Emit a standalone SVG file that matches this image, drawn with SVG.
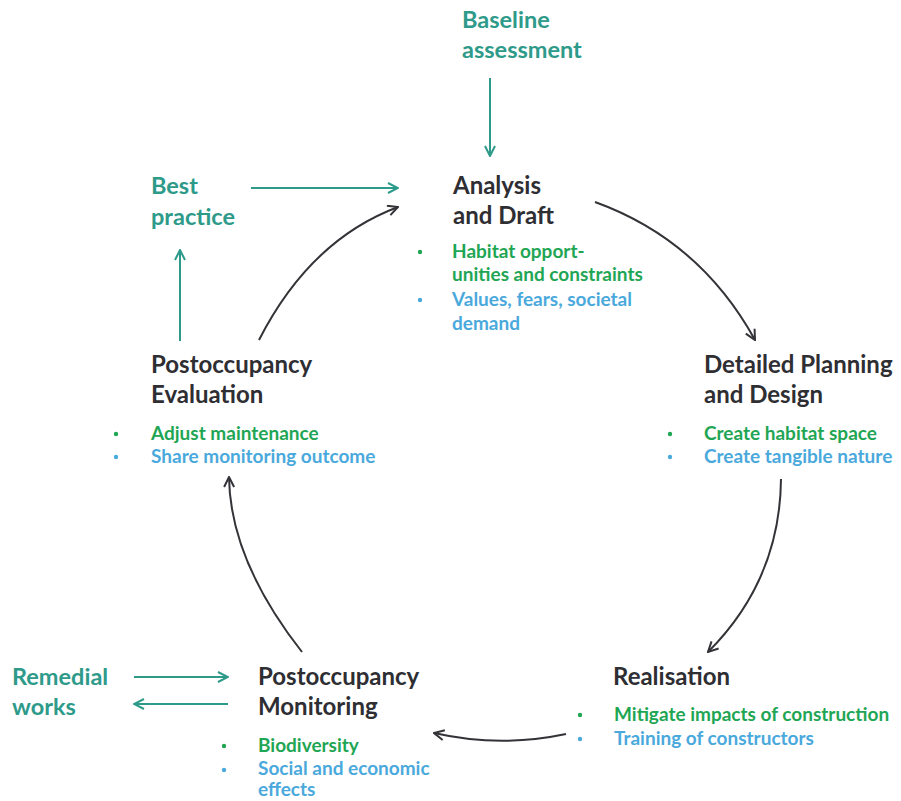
<svg xmlns="http://www.w3.org/2000/svg" width="901" height="801" viewBox="0 0 901 801">
<defs>
<style>
.t{font-family:Lato,"Open Sans","Liberation Sans",sans-serif;font-weight:700;font-size:24px;fill:#2e2e33}
.x{font-family:Lato,"Open Sans","Liberation Sans",sans-serif;font-weight:700;font-size:23.5px;fill:#2e9a8a}
.g{font-family:Lato,"Open Sans","Liberation Sans",sans-serif;font-weight:700;font-size:19px;fill:#1fa654}
.b{font-family:Lato,"Open Sans","Liberation Sans",sans-serif;font-weight:700;font-size:19px;fill:#4aa9dc}
.dk{fill:none;stroke:#333338;stroke-width:2}
.tl{fill:none;stroke:#2e9a8a;stroke-width:2}
.dg{fill:#1fa654}
.db{fill:#4aa9dc}
</style>
<marker id="ak" viewBox="0 0 12 12" refX="11" refY="6" markerWidth="12" markerHeight="12" markerUnits="userSpaceOnUse" orient="auto">
<path d="M1,1 L11,6 L1,11" fill="none" stroke="#333338" stroke-width="2"/>
</marker>
<marker id="at" viewBox="0 0 12 12" refX="11" refY="6" markerWidth="12" markerHeight="12" markerUnits="userSpaceOnUse" orient="auto">
<path d="M1,1 L11,6 L1,11" fill="none" stroke="#2e9a8a" stroke-width="2"/>
</marker>
</defs>
<rect width="901" height="801" fill="#ffffff"/>
<g id="connectors">
<path class="dk" d="M595,202 Q700,240 755,340" marker-end="url(#ak)"/>
<path class="dk" d="M781,479 Q780,580 708,652" marker-end="url(#ak)"/>
<path class="dk" d="M566,734 Q500,748 434,733" marker-end="url(#ak)"/>
<path class="dk" d="M302,652 Q230,560 229,477" marker-end="url(#ak)"/>
<path class="dk" d="M259,340 Q310,240 398,207" marker-end="url(#ak)"/>
<path class="tl" d="M490,78 L490,156" marker-end="url(#at)"/>
<path class="tl" d="M251,188 L398,188" marker-end="url(#at)"/>
<path class="tl" d="M180,341 L180,250" marker-end="url(#at)"/>
<path class="tl" d="M134,677 L228,677" marker-end="url(#at)"/>
<path class="tl" d="M228,704 L134,704" marker-end="url(#at)"/>
</g>
<g id="baseline">
<text class="x" x="462" y="28">Baseline</text>
<text class="x" x="462" y="58">assessment</text>
</g>
<g id="analysis">
<text class="t" x="453" y="194">Analysis</text>
<text class="t" x="453" y="224">and Draft</text>
<circle class="dg" cx="420" cy="252" r="2.2"/>
<text class="g" x="452" y="258">Habitat opport-</text>
<text class="g" x="452" y="281">unities and constraints</text>
<circle class="db" cx="420" cy="300" r="2.2"/>
<text class="b" x="452" y="306">Values, fears, societal</text>
<text class="b" x="452" y="330">demand</text>
</g>
<g id="bestpractice">
<text class="x" x="151" y="194">Best</text>
<text class="x" x="151" y="225">practice</text>
</g>
<g id="evaluation">
<text class="t" x="151" y="373">Postoccupancy</text>
<text class="t" x="151" y="403">Evaluation</text>
<circle class="dg" cx="116" cy="434" r="2.2"/>
<text class="g" x="151" y="440">Adjust maintenance</text>
<circle class="db" cx="116" cy="457" r="2.2"/>
<text class="b" x="151" y="463">Share monitoring outcome</text>
</g>
<g id="detailed">
<text class="t" x="704" y="373">Detailed Planning</text>
<text class="t" x="704" y="403">and Design</text>
<circle class="dg" cx="670" cy="434" r="2.2"/>
<text class="g" x="704" y="440">Create habitat space</text>
<circle class="db" cx="670" cy="457" r="2.2"/>
<text class="b" x="704" y="463">Create tangible nature</text>
</g>
<g id="realisation">
<text class="t" x="613" y="685">Realisation</text>
<circle class="dg" cx="580" cy="715" r="2.2"/>
<text class="g" x="614" y="721">Mitigate impacts of construction</text>
<circle class="db" cx="580" cy="739" r="2.2"/>
<text class="b" x="614" y="745">Training of constructors</text>
</g>
<g id="remedial">
<text class="x" x="12" y="685">Remedial</text>
<text class="x" x="12" y="715">works</text>
</g>
<g id="monitoring">
<text class="t" x="258" y="685">Postoccupancy</text>
<text class="t" x="258" y="715">Monitoring</text>
<circle class="dg" cx="224" cy="746" r="2.2"/>
<text class="g" x="258" y="752">Biodiversity</text>
<circle class="db" cx="224" cy="770" r="2.2"/>
<text class="b" x="258" y="775">Social and economic</text>
<text class="b" x="258" y="796">effects</text>
</g>
</svg>
